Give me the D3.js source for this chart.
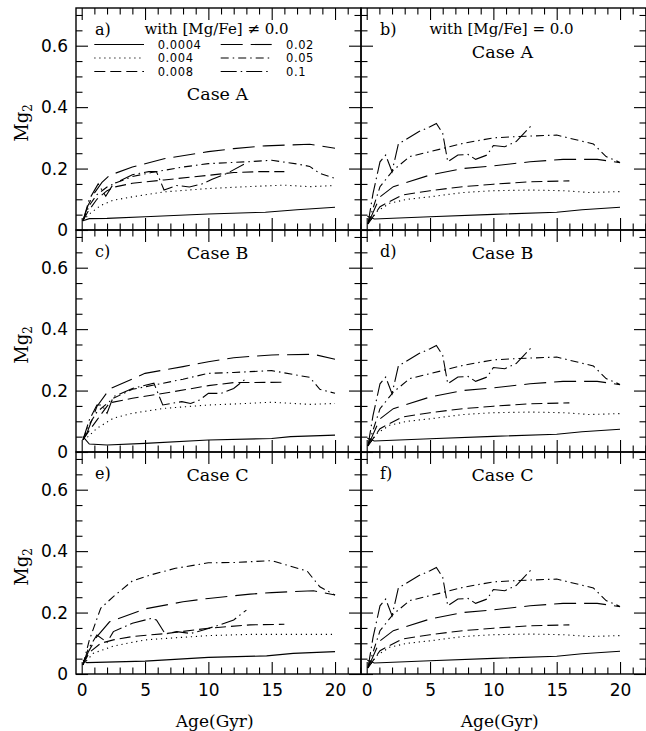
<!DOCTYPE html>
<html>
<head>
<meta charset="utf-8">
<script src="https://cdn.jsdelivr.net/npm/d3@7"></script>
<style>
  html, body { margin: 0; padding: 0; background: #fff; }
  svg { display: block; }
</style>
</head>
<body>
<svg id="chart" width="646" height="731"></svg>
<script>
// ---------------- DATA ----------------
const metallicities = ["0.0004", "0.004", "0.008", "0.02", "0.05", "0.1"];
const panelLetters = ["a)", "b)", "c)", "d)", "e)", "f)"];
const caseLabels = ["Case A", "Case A", "Case B", "Case B", "Case C", "Case C"];
const headerLabels = ["with [Mg/Fe] \u2260 0.0", "with [Mg/Fe] = 0.0"];
const xTickValues = [0, 5, 10, 15, 20];
const yTickValues = [0, 0.2, 0.4, 0.6];

// Panel a: Case A, [Mg/Fe] != 0  (series in order of metallicities)
const caseA_alpha = [
  [[0.1,0.03],[0.6,0.037],[2,0.038],[5,0.043],[10,0.052],[14.5,0.058],[17,0.066],[20,0.074]],
  [[0.1,0.03],[0.6,0.052],[1.5,0.08],[2.5,0.097],[4,0.108],[6.5,0.124],[10,0.135],[13,0.141],[16,0.146],[18,0.141],[20,0.145]],
  [[0.1,0.03],[0.5,0.06],[1.2,0.1],[2,0.128],[2.6,0.14],[4,0.152],[6.5,0.163],[10,0.178],[12,0.187],[14,0.19],[16,0.19]],
  [[0.1,0.03],[0.5,0.08],[1,0.12],[1.6,0.155],[2.2,0.178],[4,0.205],[6.5,0.232],[10,0.255],[12,0.265],[14.5,0.274],[18,0.279],[20,0.266]],
  [[0.1,0.03],[0.6,0.08],[1.2,0.115],[2,0.14],[2.6,0.152],[4,0.174],[5.5,0.187],[8,0.205],[10,0.216],[13,0.222],[15,0.227],[17,0.215],[18,0.207],[18.8,0.184],[20,0.168]],
  [[0.1,0.03],[0.6,0.1],[1.3,0.15],[1.9,0.11],[2.5,0.15],[4,0.18],[5.3,0.19],[5.9,0.19],[6.5,0.13],[7.5,0.145],[8.5,0.14],[9.5,0.15],[10.3,0.165],[11.5,0.185],[13,0.218]]
];

// Panel c: Case B, [Mg/Fe] != 0
const caseB_alpha = [
  [[0.1,0.05],[0.6,0.026],[2,0.023],[5,0.028],[10,0.039],[15,0.044],[16.5,0.05],[20,0.055]],
  [[0.1,0.04],[0.5,0.05],[1.2,0.077],[2.5,0.11],[4,0.126],[6.5,0.142],[10,0.153],[13,0.158],[15,0.162],[18,0.155],[20,0.158]],
  [[0.1,0.04],[0.6,0.07],[1.2,0.104],[2.2,0.16],[4,0.175],[6.5,0.191],[10,0.216],[12,0.226],[16,0.227]],
  [[0.1,0.04],[0.4,0.06],[1.2,0.148],[2.2,0.205],[5,0.256],[8,0.278],[10,0.294],[12,0.307],[15,0.316],[18.3,0.318],[20,0.302]],
  [[0.1,0.04],[0.6,0.09],[1.2,0.13],[2.5,0.175],[4,0.204],[5.7,0.218],[8,0.237],[10,0.256],[12,0.259],[15,0.265],[18,0.243],[18.8,0.204],[20,0.191]],
  [[0.1,0.04],[0.6,0.104],[1.2,0.153],[1.6,0.153],[2,0.126],[2.5,0.18],[4,0.207],[5.7,0.224],[6.4,0.153],[7.9,0.164],[8.6,0.158],[9.3,0.169],[10,0.191],[11,0.191],[12,0.207],[13,0.24]]
];

// Panel e: Case C, [Mg/Fe] != 0
const caseC_alpha = [
  [[0.1,0.045],[0.4,0.037],[5,0.042],[10,0.054],[14.6,0.059],[16.7,0.067],[20,0.073]],
  [[0.1,0.03],[0.9,0.067],[2.5,0.091],[5,0.111],[6.7,0.116],[10,0.125],[13.3,0.129],[20,0.129]],
  [[0.1,0.03],[0.6,0.07],[1.5,0.1],[2.5,0.111],[4,0.122],[6.7,0.132],[10,0.149],[13.3,0.16],[16,0.162]],
  [[0.1,0.03],[0.5,0.07],[1.2,0.122],[2.2,0.17],[5,0.212],[8,0.235],[10,0.246],[13.3,0.26],[15,0.265],[18.3,0.271],[20,0.257]],
  [[0.1,0.03],[0.6,0.11],[1.5,0.214],[2.5,0.252],[4,0.303],[5.4,0.322],[7.4,0.344],[10,0.362],[12,0.363],[15,0.369],[17.8,0.335],[18.8,0.284],[20,0.257]],
  [[0.1,0.03],[0.5,0.08],[1.2,0.127],[2,0.103],[2.5,0.138],[4,0.165],[5.5,0.181],[5.9,0.176],[6.6,0.13],[7.5,0.138],[8.6,0.132],[9.6,0.143],[10.9,0.16],[12,0.176],[13,0.208]]
];

// Panels b, d, f: [Mg/Fe] = 0 (same in all three cases)
const solarRatio = [
  [[0.05,0.045],[0.6,0.036],[5,0.043],[10,0.051],[15,0.058],[17,0.066],[20,0.074]],
  [[0.1,0.02],[0.8,0.06],[1.8,0.087],[3.2,0.1],[5,0.108],[7.6,0.122],[10,0.128],[12.9,0.13],[15.5,0.128],[17.6,0.122],[20,0.125]],
  [[0.1,0.02],[1.05,0.076],[2.8,0.114],[5,0.128],[7.6,0.141],[10,0.149],[12.9,0.157],[16,0.16]],
  [[0.1,0.02],[1.05,0.108],[2.1,0.141],[5,0.179],[7.6,0.2],[10,0.209],[12.9,0.222],[15.5,0.23],[18.2,0.23],[20,0.219]],
  [[0.1,0.02],[1.05,0.141],[2.1,0.195],[3.4,0.239],[5,0.255],[7.6,0.282],[10,0.3],[11.8,0.304],[15,0.309],[17.9,0.28],[18.9,0.239],[20,0.22]],
  [[0.1,0.02],[0.5,0.119],[1.05,0.222],[1.5,0.244],[2,0.19],[2.5,0.28],[4.1,0.32],[5,0.336],[5.5,0.347],[6,0.315],[6.4,0.222],[7.2,0.244],[8,0.246],[8.6,0.23],[9.5,0.244],[10,0.275],[10.9,0.271],[11.8,0.288],[13,0.34]]
];

const panelSeries = [caseA_alpha, solarRatio, caseB_alpha, solarRatio, caseC_alpha, solarRatio];

// ---------------- LAYOUT / STYLE ----------------
const dashStyles = ["none", "1.2,3.8", "11,5", "22,8", "8,4,1.5,4", "16,4,1.5,4"];
const colX = [76, 361];
const rowY = [8, 230, 452];
const PW = 285, PH = 222;
const serif = "'DejaVu Serif', 'Liberation Serif', serif";
const sans = "'DejaVu Sans', 'Liberation Sans', sans-serif";

const x = d3.scaleLinear().domain([-0.45, 22.05]).range([0, PW]);
const y = d3.scaleLinear().domain([0, 0.7227]).range([PH, 0]);
const line = d3.line().x(d => x(d[0])).y(d => y(d[1]));

const xMinor = d3.range(1, 23).filter(v => v % 5 !== 0);
const yMinor = d3.range(1, 15).map(v => +(v * 0.05).toFixed(2)).filter(v => Math.abs(v / 0.2 - Math.round(v / 0.2)) > 1e-6);

const svg = d3.select("#chart");
svg.append("rect").attr("width", 646).attr("height", 731).attr("fill", "#fff");

const MAJ = 12, MIN = 6.5;

function styleAxis(g) {
  g.select(".domain").remove();
  g.selectAll(".tick line").attr("stroke", "#000").attr("stroke-width", 1.1);
}

panelSeries.forEach((series, i) => {
  const col = i % 2, row = Math.floor(i / 2);
  const g = svg.append("g").attr("transform", `translate(${colX[col]},${rowY[row]})`);

  // curves
  series.forEach((s, k) => {
    g.append("path")
      .datum(s)
      .attr("d", line)
      .attr("fill", "none")
      .attr("stroke", "#000")
      .attr("stroke-width", 1.1)
      .attr("stroke-dasharray", dashStyles[k] === "none" ? null : dashStyles[k]);
  });

  const showX = row === 2, showY = col === 0;

  // bottom axis
  const bot = g.append("g").attr("transform", `translate(0,${PH})`)
    .call(d3.axisBottom(x).tickValues(xTickValues).tickSize(-MAJ).tickSizeOuter(0)
      .tickPadding(10).tickFormat(showX ? d3.format("d") : () => ""));
  styleAxis(bot);
  bot.selectAll("text").attr("font-family", sans).attr("font-size", 17).attr("fill", "#000");
  const botMin = g.append("g").attr("transform", `translate(0,${PH})`)
    .call(d3.axisBottom(x).tickValues(xMinor).tickSize(-MIN).tickSizeOuter(0).tickFormat(() => ""));
  styleAxis(botMin);

  // top axis
  const top = g.append("g")
    .call(d3.axisTop(x).tickValues(xTickValues).tickSize(-MAJ).tickSizeOuter(0).tickFormat(() => ""));
  styleAxis(top);
  const topMin = g.append("g")
    .call(d3.axisTop(x).tickValues(xMinor).tickSize(-MIN).tickSizeOuter(0).tickFormat(() => ""));
  styleAxis(topMin);

  // left axis
  const left = g.append("g")
    .call(d3.axisLeft(y).tickValues(yTickValues).tickSize(-MAJ).tickSizeOuter(0)
      .tickPadding(8).tickFormat(showY ? (d => d === 0 ? "0" : d3.format(".1f")(d)) : () => ""));
  styleAxis(left);
  left.selectAll("text").attr("font-family", sans).attr("font-size", 17).attr("fill", "#000");
  const leftMin = g.append("g")
    .call(d3.axisLeft(y).tickValues(yMinor).tickSize(-MIN).tickSizeOuter(0).tickFormat(() => ""));
  styleAxis(leftMin);

  // right axis
  const right = g.append("g").attr("transform", `translate(${PW},0)`)
    .call(d3.axisRight(y).tickValues(yTickValues).tickSize(-MAJ).tickSizeOuter(0).tickFormat(() => ""));
  styleAxis(right);
  const rightMin = g.append("g").attr("transform", `translate(${PW},0)`)
    .call(d3.axisRight(y).tickValues(yMinor).tickSize(-MIN).tickSizeOuter(0).tickFormat(() => ""));
  styleAxis(rightMin);

  // frame
  g.append("rect").attr("width", PW).attr("height", PH)
    .attr("fill", "none").attr("stroke", "#000").attr("stroke-width", 1.4);

  // panel letter
  g.append("text").attr("x", 19).attr("y", 27)
    .attr("font-family", serif).attr("font-size", 16).text(panelLetters[i]);

  // case label
  const caseY = i === 0 ? 92 : (i === 1 ? 50 : 29);
  g.append("text").attr("x", PW / 2 - 1).attr("y", caseY)
    .attr("text-anchor", "middle").attr("font-family", serif).attr("font-size", 17.5)
    .text(caseLabels[i]);

  if (row === 0) {
    g.append("text").attr("x", PW / 2 - 2).attr("y", 26)
      .attr("text-anchor", "middle").attr("font-family", serif).attr("font-size", 15)
      .text(headerLabels[col]);
  }

  // y label
  if (showY) {
    const t = svg.append("text")
      .attr("transform", `translate(28,${rowY[row] + 115}) rotate(-90)`)
      .attr("text-anchor", "middle").attr("font-family", serif).attr("font-size", 18);
    t.append("tspan").text("Mg");
    t.append("tspan").attr("dy", 4).attr("font-size", 12).text("2");
  }

  // x label
  if (showX) {
    svg.append("text").attr("x", colX[col] + x(10.5)).attr("y", 727)
      .attr("text-anchor", "middle").attr("font-family", serif).attr("font-size", 17)
      .text("Age(Gyr)");
  }

  // legend in panel a
  if (i === 0) {
    const legRows = [36.5, 50, 63.5];
    metallicities.forEach((m, k) => {
      const c = k < 3 ? 0 : 1, r = k % 3;
      const x0 = c === 0 ? 18.3 : 144.7, x1 = c === 0 ? 68 : 195.7;
      const lx = c === 0 ? 81.7 : 210;
      g.append("line").attr("x1", x0).attr("x2", x1)
        .attr("y1", legRows[r]).attr("y2", legRows[r])
        .attr("stroke", "#000").attr("stroke-width", 1.1)
        .attr("stroke-dasharray", dashStyles[k] === "none" ? null : dashStyles[k]);
      g.append("text").attr("x", lx).attr("y", legRows[r] + 4.3)
        .attr("font-family", sans).attr("font-size", 11.5).attr("letter-spacing", 0.6).text(m);
    });
  }
});
</script>
</body>
</html>
